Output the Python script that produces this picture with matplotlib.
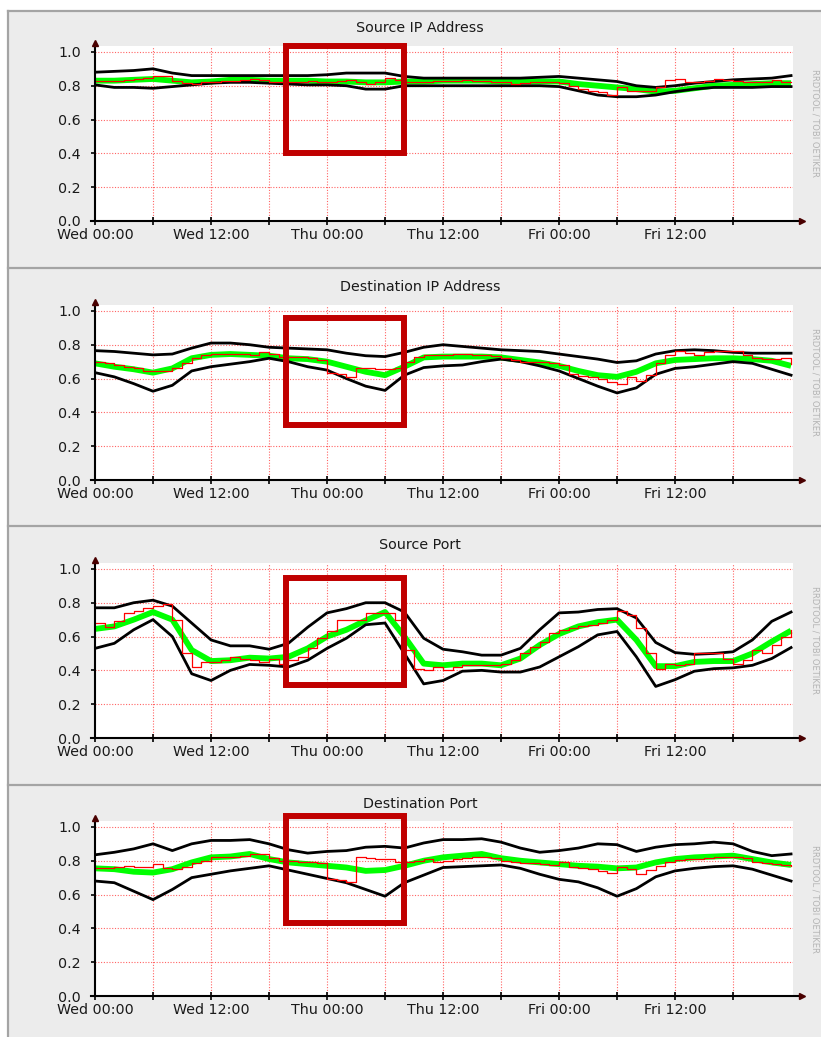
import matplotlib
matplotlib.use("Agg")
import matplotlib.pyplot as plt
from matplotlib.patches import Rectangle
from matplotlib.lines import Line2D

# time axis (hours since Wed 00:00)
hours_2h = list(range(0, 73, 2))
hours_1h = list(range(0, 73))
tick_hours = [0, 12, 24, 36, 48, 60]
tick_labels = ["Wed 00:00", "Wed 12:00", "Thu 00:00", "Thu 12:00", "Fri 00:00", "Fri 12:00"]
titles = ["Source IP Address", "Destination IP Address", "Source Port", "Destination Port"]

# Source IP Address
sip_upper = [.88, .885, .89, .90, .875, .86, .86, .86, .86, .86, .86, .86, .865, .875, .875, .875, .855, .845, .845,
             .845, .845, .845, .845, .85, .855, .845, .835, .825, .80, .79, .80, .815, .825, .835, .84, .845, .86]
sip_lower = [.805, .79, .79, .785, .795, .805, .815, .82, .82, .815, .81, .805, .805, .80, .78, .78, .80, .80, .80,
             .80, .80, .80, .80, .80, .795, .77, .745, .735, .735, .745, .765, .78, .79, .79, .79, .795, .795]
sip_pred = [.83, .83, .835, .84, .83, .82, .825, .835, .835, .83, .83, .83, .825, .825, .82, .82, .825, .825, .83,
            .83, .83, .825, .825, .825, .825, .81, .80, .79, .78, .765, .77, .785, .80, .805, .81, .815, .815]
sip_actual = [.83, .83, .83, .835, .84, .845, .86, .86, .83, .815, .81, .82, .825, .83, .83, .835, .84, .835, .82,
              .82, .82, .825, .83, .82, .825, .83, .835, .82, .81, .82, .845, .835, .82, .82, .825, .83, .83,
              .83, .835, .83, .83, .825, .82, .81, .815, .82, .82, .82, .815, .80, .78, .77, .76, .745, .79,
              .77, .77, .77, .79, .835, .84, .82, .825, .83, .84, .835, .83, .825, .82, .825, .835, .82, .82]

# Destination IP Address
dip_upper = [.765, .76, .75, .74, .745, .78, .81, .81, .80, .785, .78, .775, .77, .75, .735, .73, .755, .785, .80,
             .79, .78, .77, .765, .76, .745, .73, .715, .695, .705, .745, .765, .77, .765, .755, .75, .75, .75]
dip_lower = [.635, .61, .57, .525, .56, .645, .67, .685, .70, .72, .70, .67, .65, .60, .555, .53, .62, .665, .675,
             .68, .70, .715, .70, .675, .645, .60, .555, .515, .545, .625, .66, .67, .685, .70, .69, .655, .62]
dip_pred = [.69, .67, .655, .635, .66, .72, .74, .745, .74, .735, .72, .715, .70, .67, .64, .62, .67, .725, .73,
            .73, .73, .725, .71, .695, .675, .645, .62, .61, .64, .69, .71, .715, .72, .72, .715, .705, .675]
dip_actual = [.70, .69, .68, .67, .66, .645, .645, .645, .665, .69, .72, .74, .745, .745, .745, .745, .74, .755, .745,
              .73, .73, .725, .72, .71, .63, .625, .61, .665, .66, .655, .655, .66, .70, .73, .74, .74, .74,
              .745, .745, .74, .74, .735, .72, .71, .70, .70, .70, .69, .68, .625, .615, .61, .595, .58, .57,
              .61, .585, .62, .69, .74, .76, .75, .74, .755, .76, .76, .76, .74, .72, .715, .715, .72, .685]

# Source Port
sp_upper = [.77, .77, .80, .815, .78, .68, .58, .545, .545, .525, .56, .655, .74, .765, .80, .80, .745, .59, .525,
            .51, .49, .49, .53, .64, .74, .745, .76, .765, .71, .565, .505, .495, .50, .51, .58, .69, .745]
sp_lower = [.53, .56, .64, .70, .60, .38, .34, .40, .435, .43, .42, .46, .53, .59, .67, .68, .50, .32, .34,
            .395, .40, .39, .39, .42, .48, .54, .61, .63, .48, .305, .345, .395, .41, .415, .43, .47, .535]
sp_pred = [.645, .66, .70, .745, .70, .52, .455, .46, .475, .47, .48, .53, .60, .64, .695, .745, .60, .44, .43,
           .44, .44, .43, .47, .55, .615, .66, .685, .70, .58, .425, .425, .45, .455, .455, .50, .57, .635]
sp_actual = [.68, .655, .69, .74, .75, .77, .78, .79, .70, .50, .42, .45, .45, .46, .48, .47, .46, .45, .47,
             .44, .46, .48, .53, .59, .63, .70, .70, .70, .74, .74, .74, .70, .52, .41, .40, .42, .40,
             .42, .43, .43, .43, .43, .44, .46, .50, .54, .57, .62, .64, .65, .66, .67, .68, .70, .75,
             .73, .65, .50, .41, .44, .43, .44, .50, .50, .50, .47, .44, .46, .52, .50, .55, .60, .64]

# Destination Port
dp_upper = [.835, .85, .87, .90, .86, .90, .92, .92, .925, .90, .865, .845, .855, .86, .88, .885, .875, .905, .925,
            .925, .93, .91, .875, .85, .86, .875, .90, .895, .855, .88, .895, .90, .91, .90, .855, .83, .84]
dp_lower = [.68, .67, .62, .57, .63, .70, .72, .74, .755, .77, .745, .72, .695, .67, .63, .59, .67, .715, .76,
            .765, .77, .775, .755, .72, .69, .675, .64, .59, .635, .705, .74, .755, .765, .77, .75, .715, .68]
dp_pred = [.755, .75, .735, .73, .75, .79, .82, .825, .84, .81, .79, .78, .77, .76, .74, .745, .77, .80, .82,
           .83, .84, .815, .80, .79, .78, .77, .765, .755, .76, .79, .81, .82, .825, .83, .81, .79, .775]
dp_actual = [.755, .755, .76, .77, .76, .76, .78, .755, .75, .76, .785, .80, .82, .82, .825, .83, .84, .84, .815,
             .80, .80, .795, .79, .785, .69, .685, .675, .82, .815, .81, .81, .79, .79, .80, .81, .79, .80,
             .81, .815, .82, .82, .815, .80, .79, .785, .785, .78, .775, .79, .76, .755, .75, .74, .73, .76,
             .75, .72, .745, .77, .79, .805, .81, .81, .815, .82, .825, .82, .815, .79, .785, .78, .775, .77]

uppers = [sip_upper, dip_upper, sp_upper, dp_upper]
lowers = [sip_lower, dip_lower, sp_lower, dp_lower]
preds = [sip_pred, dip_pred, sp_pred, dp_pred]
actuals = [sip_actual, dip_actual, sp_actual, dp_actual]

# highlighted window (hours) and its vertical extent per panel
box_hours = (19.75, 32.0)
box_low = [0.405, 0.325, 0.315, 0.43]
box_high = [1.035, 0.958, 0.946, 1.065]

W, H = 821, 1037
fig = plt.figure(figsize=(W / 100, H / 100), dpi=100)
fig.patch.set_facecolor("white")

# grey frame behind the four graphs
fig.add_artist(Rectangle((8 / W, 0), 1, 1 - 11 / H, transform=fig.transFigure,
                         facecolor="#ececec", edgecolor="none", zorder=-10))
for yy in [11, 268, 526, 785]:
    fig.add_artist(Line2D([8 / W, 1], [1 - yy / H] * 2, color="#a4a4a4", lw=1.6, zorder=-5))
fig.add_artist(Line2D([8 / W] * 2, [0, 1 - 11 / H], color="#a4a4a4", lw=1.6, zorder=-5))

zero_px = [221, 480, 738, 996]
title_px = [28, 287, 545, 804]
ax_left = 95 / W
ax_w = (793 - 95) / W
ax_h = 175 / H
grid_kw = dict(color="#ff3030", lw=0.8, ls=(0, (1, 1.5)), alpha=0.75, zorder=1)

for i in range(4):
    ax = fig.add_axes([ax_left, 1 - zero_px[i] / H, ax_w, ax_h])
    ax.set_facecolor("white")
    ax.set_xlim(0, 72.2)
    ax.set_ylim(0, 1.035)

    for g in range(6, 72, 6):
        ax.axvline(g, **grid_kw)
    for g in [0.2, 0.4, 0.6, 0.8, 1.0]:
        ax.axhline(g, **grid_kw)

    ax.plot(hours_2h, preds[i], color="#00ff00", lw=4.2, solid_capstyle="butt", zorder=3)
    ax.plot(hours_2h, uppers[i], color="black", lw=2.0, zorder=4)
    ax.plot(hours_2h, lowers[i], color="black", lw=2.0, zorder=4)
    ax.plot(hours_1h, actuals[i], color="#ff0000", lw=0.9, drawstyle="steps-post", zorder=5)

    # axes with arrows
    for s in ["top", "right", "left", "bottom"]:
        ax.spines[s].set_visible(False)
    ax.plot([0, 0], [0, 1.05], color="black", lw=1.5, clip_on=False, zorder=6)
    ax.plot([-0.4, 73.0], [0, 0], color="black", lw=1.5, clip_on=False, zorder=6)
    ax.plot([0], [1.055], marker="^", color="#4a0000", ms=5, clip_on=False, zorder=7)
    ax.plot([73.1], [0], marker=">", color="#4a0000", ms=5, clip_on=False, zorder=7)

    ax.set_xticks(tick_hours)
    ax.set_xticklabels(tick_labels)
    ax.set_xticks(range(6, 72, 12), minor=True)
    ax.tick_params(axis="x", which="both", direction="inout", length=6, width=1.2,
                   labelsize=10.3, pad=2, color="black")
    ax.set_yticks([0, 0.2, 0.4, 0.6, 0.8, 1.0])
    ax.set_yticklabels(["0.0", "0.2", "0.4", "0.6", "0.8", "1.0"])
    ax.tick_params(axis="y", direction="out", length=3, width=1.2, labelsize=10.3, pad=7)
    for lab in ax.get_xticklabels() + ax.get_yticklabels():
        lab.set_color("#1a1a1a")

    ax.add_patch(Rectangle((box_hours[0], box_low[i]), box_hours[1] - box_hours[0],
                           box_high[i] - box_low[i], fill=False, edgecolor="#c00000",
                           lw=4.3, clip_on=False, zorder=10))

    fig.text(420 / W, 1 - title_px[i] / H, titles[i], ha="center", va="center",
             fontsize=10.3, color="#1a1a1a")
    fig.text(815 / W, 1 - (title_px[i] + 95) / H, "RRDTOOL / TOBI OETIKER", rotation=270,
             ha="center", va="center", fontsize=6, color="#b4b4b4")

fig.savefig("out.png", dpi=100)
